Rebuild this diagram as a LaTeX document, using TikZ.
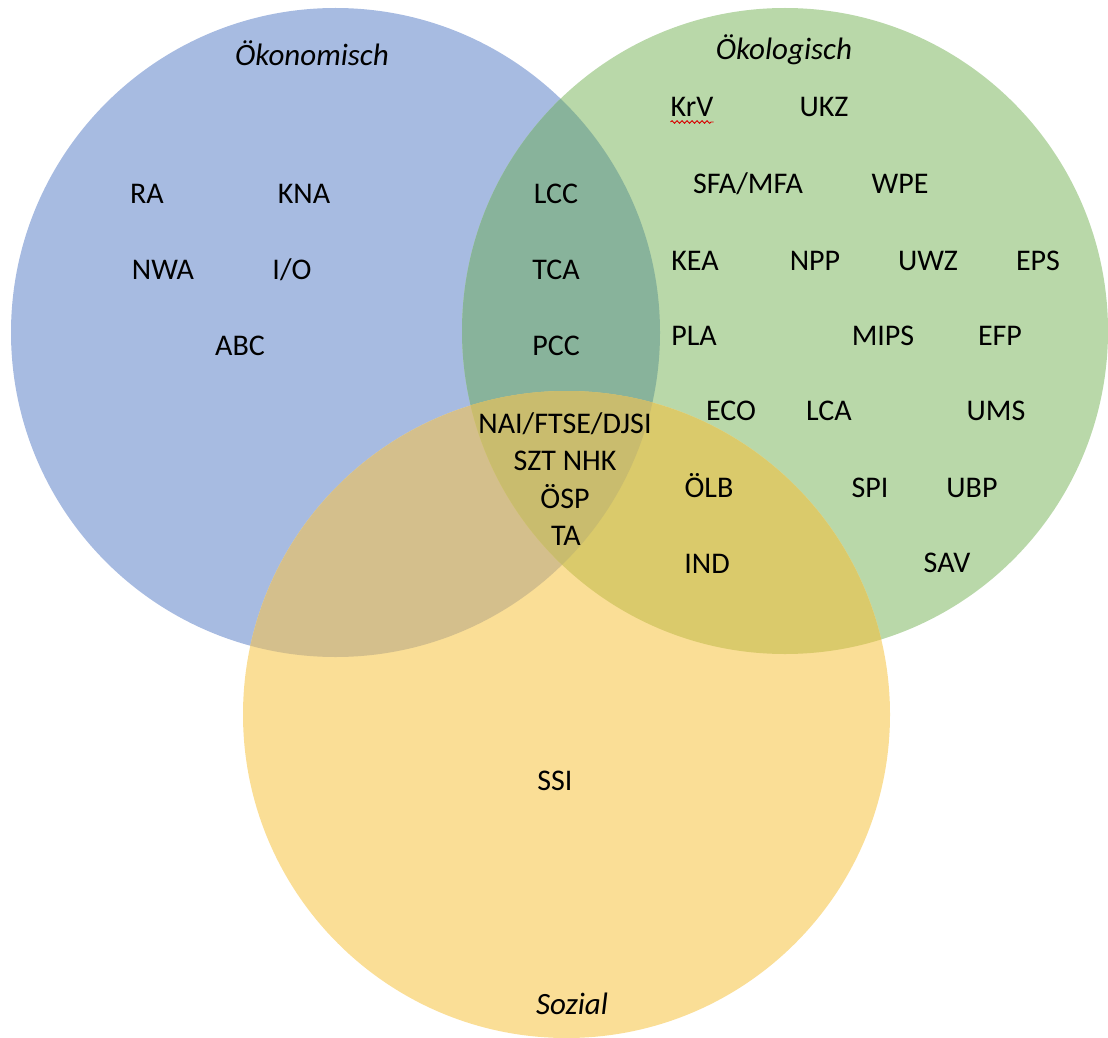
\documentclass[tikz,border=0pt]{standalone}
\usepackage{fontspec}
\setmainfont{Carlito}
\usetikzlibrary{decorations.pathmorphing}

% region colours of the three-set diagram
\definecolor{ecoB}{RGB}{167,187,225}
\definecolor{ecoG}{RGB}{185,216,169}
\definecolor{socY}{RGB}{250,222,150}
\definecolor{mixBG}{RGB}{136,179,155}
\definecolor{mixBY}{RGB}{212,191,140}
\definecolor{mixGY}{RGB}{218,202,107}
\definecolor{mixBGY}{RGB}{201,188,110}

\tikzset{
  lbl/.style={font=\fontsize{30}{36}\selectfont, inner sep=0pt, anchor=base, text=black},
  ttl/.style={font=\fontsize{31}{37}\selectfont\itshape, inner sep=0pt, anchor=base, text=black},
  squiggle/.style={draw=red!85!black, line width=0.9pt,
    decorate, decoration={snake, amplitude=1.3pt, segment length=5pt}}
}

\begin{document}
\begin{tikzpicture}[x=1pt,y=-1pt]
\useasboundingbox (0,0) rectangle (1108,1038);

\coordinate (cB) at (335.5,332.5);
\coordinate (cG) at (785,331);
\coordinate (cY) at (566.5,714.5);
\def\rB{324.5pt}
\def\rG{323pt}
\def\rY{323.5pt}

% single sets
\fill[ecoB] (cB) circle[radius=\rB];
\fill[ecoG] (cG) circle[radius=\rG];
\fill[socY] (cY) circle[radius=\rY];
% pairwise overlaps
\begin{scope}
  \clip (cB) circle[radius=\rB];
  \fill[mixBG] (cG) circle[radius=\rG];
  \fill[mixBY] (cY) circle[radius=\rY];
\end{scope}
\begin{scope}
  \clip (cG) circle[radius=\rG];
  \fill[mixGY] (cY) circle[radius=\rY];
\end{scope}
% triple overlap
\begin{scope}
  \clip (cB) circle[radius=\rB];
  \clip (cG) circle[radius=\rG];
  \fill[mixBGY] (cY) circle[radius=\rY];
\end{scope}

% set titles
\node[ttl] (tOek) at (312,66) {Ökonomisch};
\node[ttl] (tOko) at (784,60) {Ökologisch};
\node[ttl] (tSoz) at (572,1014) {Sozial};

% economic
\node[lbl] (ra)  at (147,203) {RA};
\node[lbl] (kna) at (304,203) {KNA};
\node[lbl] (nwa) at (163,279) {NWA};
\node[lbl] (io)  at (292,279) {I/O};
\node[lbl] (abc) at (240,355) {ABC};

% economic + ecological
\node[lbl] (lcc) at (556,203) {LCC};
\node[lbl] (tca) at (556,279) {TCA};
\node[lbl] (pcc) at (556,355) {PCC};

% ecological
\node[lbl] (krv)  at (692,117) {KrV};
\node[lbl] (ukz)  at (824,117) {UKZ};
\node[lbl] (sfa)  at (748,193) {SFA/MFA};
\node[lbl] (wpe)  at (900,193) {WPE};
\node[lbl] (kea)  at (695,270) {KEA};
\node[lbl] (npp)  at (815,270) {NPP};
\node[lbl] (uwz)  at (928,270) {UWZ};
\node[lbl] (eps)  at (1038,270) {EPS};
\node[lbl] (pla)  at (694,345) {PLA};
\node[lbl] (mips) at (883,345) {MIPS};
\node[lbl] (efp)  at (1000,345) {EFP};
\node[lbl] (eco)  at (731,420) {ECO};
\node[lbl] (lca)  at (829,420) {LCA};
\node[lbl] (ums)  at (996,420) {UMS};
\node[lbl] (spi)  at (870,497) {SPI};
\node[lbl] (ubp)  at (972,497) {UBP};
\node[lbl] (sav)  at (947,572) {SAV};

% spell-check mark under KrV
\draw[squiggle] ([yshift=-5pt]krv.base west) -- ([yshift=-5pt]krv.base east);

% all three
\node[lbl] (nai) at (565,433) {NAI/FTSE/DJSI};
\node[lbl] (szt) at (565,470) {SZT NHK};
\node[lbl] (osp) at (565,508) {ÖSP};
\node[lbl] (ta)  at (566,545) {TA};

% ecological + social
\node[lbl] (olb) at (709,497) {ÖLB};
\node[lbl] (ind) at (707,573) {IND};

% social
\node[lbl] (ssi) at (555,790) {SSI};
\end{tikzpicture}
\end{document}
